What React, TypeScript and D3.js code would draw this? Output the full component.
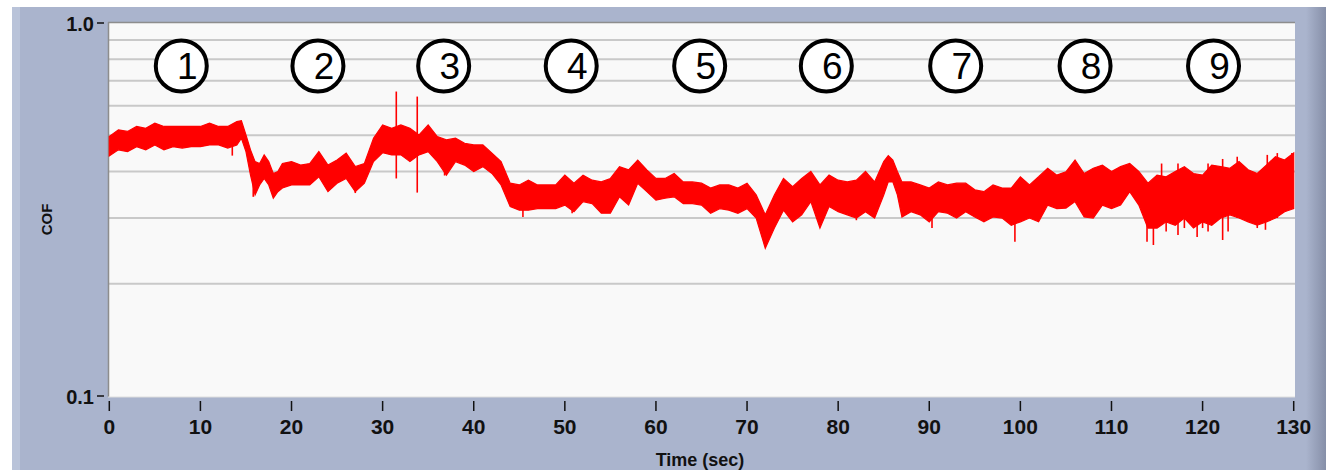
import React from "react";
import * as d3 from "d3";

// Friction test trace: coefficient of friction (log scale) against time.
const seconds = [
  0, 1, 2, 3, 4, 5, 6, 7, 8, 9, 10, 11, 12, 13, 14, 14.5, 15, 15.5, 16, 16.5, 17, 17.5, 18, 18.5,
  19, 20, 21, 22, 23, 24, 25, 26, 27, 28, 29, 30, 31, 32, 33, 34, 35, 36, 37, 38, 39, 40, 41, 42,
  43, 44, 45, 46, 47, 48, 49, 50, 51, 52, 53, 54, 55, 56, 57, 58, 59, 60, 61, 62, 63, 64, 65, 66,
  67, 68, 69, 70, 71, 72, 73, 74, 75, 76, 77, 78, 79, 80, 81, 82, 83, 84, 85, 85.5, 86, 86.5, 87,
  88, 89, 90, 91, 92, 93, 94, 95, 96, 97, 98, 99, 100, 101, 102, 103, 104, 105, 106, 107, 108, 109,
  110, 111, 112, 113, 114, 115, 116, 117, 118, 119, 120, 121, 122, 123, 124, 125, 126, 127, 128,
  129, 130,
];

const cofUpper = [
  0.496, 0.517, 0.512, 0.528, 0.522, 0.539, 0.528, 0.528, 0.528, 0.528, 0.528, 0.539, 0.528, 0.528,
  0.544, 0.547, 0.501, 0.457, 0.425, 0.42, 0.443, 0.425, 0.395, 0.4,
  0.42, 0.425, 0.416, 0.42, 0.452, 0.416, 0.429, 0.448, 0.412, 0.42, 0.491, 0.533, 0.522, 0.533,
  0.522, 0.501, 0.533, 0.496, 0.486, 0.491, 0.476, 0.471, 0.471, 0.448,
  0.425, 0.372, 0.368, 0.379, 0.368, 0.368, 0.368, 0.391, 0.372, 0.391, 0.379, 0.375, 0.383, 0.412,
  0.404, 0.429, 0.404, 0.383, 0.383, 0.395, 0.375, 0.375, 0.372, 0.361,
  0.368, 0.368, 0.361, 0.372, 0.346, 0.306, 0.346, 0.383, 0.364, 0.383, 0.4, 0.368, 0.391, 0.379,
  0.375, 0.379, 0.4, 0.375, 0.425, 0.441, 0.429, 0.4, 0.375,
  0.375, 0.368, 0.361, 0.375, 0.368, 0.372, 0.372, 0.357, 0.353, 0.368, 0.361, 0.361, 0.387, 0.368,
  0.387, 0.408, 0.391, 0.399, 0.429, 0.395, 0.408, 0.416,
  0.4, 0.412, 0.42, 0.4, 0.372, 0.391, 0.387, 0.4, 0.412, 0.395, 0.391, 0.416, 0.412, 0.408, 0.425,
  0.404, 0.395, 0.416, 0.438, 0.429, 0.448,
];

const cofLower = [
  0.44, 0.457, 0.452, 0.466, 0.457, 0.471, 0.457, 0.466, 0.462, 0.466, 0.466, 0.471, 0.471, 0.462,
  0.471, 0.491, 0.452, 0.391, 0.346, 0.368, 0.383, 0.368, 0.339, 0.353,
  0.361, 0.368, 0.368, 0.368, 0.387, 0.353, 0.372, 0.383, 0.353, 0.372, 0.425, 0.449, 0.443, 0.443,
  0.425, 0.443, 0.452, 0.425, 0.391, 0.425, 0.416, 0.4, 0.412, 0.395,
  0.368, 0.322, 0.315, 0.315, 0.318, 0.318, 0.318, 0.325, 0.312, 0.332, 0.328, 0.309, 0.309, 0.342,
  0.325, 0.372, 0.353, 0.335, 0.339, 0.342, 0.328, 0.328, 0.325, 0.309,
  0.318, 0.315, 0.309, 0.318, 0.3, 0.249, 0.282, 0.315, 0.293, 0.306, 0.332, 0.282, 0.322, 0.312,
  0.306, 0.3, 0.312, 0.3, 0.346, 0.375, 0.375, 0.346, 0.302,
  0.312, 0.306, 0.293, 0.312, 0.309, 0.3, 0.312, 0.302, 0.293, 0.302, 0.3, 0.287, 0.293, 0.3,
  0.293, 0.325, 0.318, 0.319, 0.332, 0.302, 0.3, 0.325,
  0.318, 0.325, 0.353, 0.325, 0.282, 0.282, 0.293, 0.287, 0.3, 0.282, 0.293, 0.287, 0.3, 0.306,
  0.3, 0.293, 0.287, 0.293, 0.3, 0.312, 0.318,
];

// Short excursions of the signal: [time, lowest COF, highest COF]
const spikes: [number, number, number][] = [
  [13.5, 0.441, 0.51],
  [15.8, 0.342, 0.42],
  [27.0, 0.35, 0.41],
  [31.5, 0.383, 0.655],
  [33.8, 0.351, 0.635],
  [36.8, 0.39, 0.47],
  [45.4, 0.302, 0.36],
  [50.8, 0.309, 0.37],
  [82.0, 0.296, 0.36],
  [90.3, 0.282, 0.36],
  [93.4, 0.306, 0.36],
  [99.4, 0.259, 0.35],
  [113.9, 0.259, 0.36],
  [114.6, 0.254, 0.37],
  [115.5, 0.3, 0.42],
  [116.0, 0.276, 0.36],
  [117.3, 0.27, 0.42],
  [118.0, 0.282, 0.37],
  [119.4, 0.267, 0.37],
  [120.0, 0.282, 0.37],
  [120.6, 0.276, 0.42],
  [122.2, 0.262, 0.432],
  [122.8, 0.276, 0.37],
  [123.8, 0.3, 0.438],
  [126.0, 0.282, 0.36],
  [126.9, 0.279, 0.37],
  [127.1, 0.33, 0.443],
  [128.2, 0.3, 0.448],
  [129.8, 0.32, 0.448],
];

const xTicks = [0, 10, 20, 30, 40, 50, 60, 70, 80, 90, 100, 110, 120, 130];
const yTickValues = [0.1, 1.0];
const yTickLabels = ["0.1", "1.0"];
const gridValues = [0.2, 0.3, 0.4, 0.5, 0.6, 0.7, 0.8, 0.9];

// Numbered test stages marked above the trace
const stageTimes = [7.9, 22.9, 36.7, 50.7, 64.8, 78.7, 92.9, 107.1, 121.2];
const stageLabels = ["1", "2", "3", "4", "5", "6", "7", "8", "9"];
const stageCof = 0.767;

const W = 1326;
const H = 470;
const plot = { left: 108, top: 22, right: 1295, bottom: 397 };
const FONT = "'Liberation Sans', Arial, sans-serif";

export default function App() {
  const x = d3.scaleLinear().domain([0, 130]).range([109.3, 1293.7]);
  const y = d3.scaleLog().domain([0.1, 1]).range([396, 23]);

  const rows = seconds.map((t, i) => ({ t, hi: cofUpper[i], lo: cofLower[i] }));
  const band = d3
    .area<{ t: number; hi: number; lo: number }>()
    .x((d) => x(d.t))
    .y0((d) => y(d.lo))
    .y1((d) => y(d.hi))
    .curve(d3.curveLinear)(rows) as string;

  return (
    <svg
      width={W}
      height={H}
      style={{ position: "absolute", left: 0, top: 0, display: "block" }}
      fontFamily={FONT}
    >
      <defs>
        <linearGradient id="edgeShade" x1="0" x2="1" y1="0" y2="0">
          <stop offset="0" stopColor="#aab4cd" />
          <stop offset="1" stopColor="#868fa8" />
        </linearGradient>
      </defs>
      <rect x={0} y={0} width={W} height={H} fill="#ffffff" />
      <rect x={12} y={7} width={W - 12} height={H - 7} fill="#aab4cd" />
      <rect x={12} y={7} width={8} height={H - 7} fill="#b9c3d9" />
      <rect x={1306} y={7} width={20} height={H - 7} fill="url(#edgeShade)" />

      {/* plot area */}
      <rect
        x={plot.left}
        y={plot.top}
        width={plot.right - plot.left}
        height={plot.bottom - plot.top}
        fill="#f9f9f9"
      />
      {gridValues.map((v) => (
        <line
          key={v}
          x1={plot.left}
          x2={plot.right}
          y1={y(v)}
          y2={y(v)}
          stroke="#c9c9c9"
          strokeWidth={2}
        />
      ))}
      <line x1={plot.left} x2={plot.right} y1={plot.top + 0.5} y2={plot.top + 0.5} stroke="#8d8d8d" strokeWidth={1.5} />
      <line x1={plot.left + 0.5} x2={plot.left + 0.5} y1={plot.top} y2={plot.bottom} stroke="#8d8d8d" strokeWidth={1.5} />
      <line x1={plot.left} x2={plot.right} y1={plot.bottom} y2={plot.bottom} stroke="#dedede" strokeWidth={1} />

      {/* trace */}
      <path d={band} fill="#ff0000" stroke="#ff0000" strokeWidth={1.2} strokeLinejoin="miter" />
      {spikes.map(([t, lo, hi], i) => (
        <line key={i} x1={x(t)} x2={x(t)} y1={y(lo)} y2={y(hi)} stroke="#ff0000" strokeWidth={1.6} />
      ))}

      {/* stage markers */}
      {stageTimes.map((t, i) => (
        <g key={stageLabels[i]}>
          <circle cx={x(t)} cy={y(stageCof)} r={25.5} fill="#ffffff" stroke="#000000" strokeWidth={4} />
          <text
            x={x(t) + 6}
            y={y(stageCof) + 13}
            textAnchor="middle"
            fontSize={37}
            fill="#000000"
          >
            {stageLabels[i]}
          </text>
        </g>
      ))}

      {/* y axis */}
      {yTickValues.map((v, i) => (
        <g key={v}>
          <line x1={97} x2={104} y1={y(v)} y2={y(v)} stroke="#111" strokeWidth={1.5} />
          <text x={94} y={y(v) + 8} textAnchor="end" fontSize={20} fontWeight="bold" fill="#111">
            {yTickLabels[i]}
          </text>
        </g>
      ))}
      <text
        transform={`translate(52,${(plot.top + plot.bottom) / 2 + 10}) rotate(-90)`}
        textAnchor="middle"
        fontSize={15}
        fontWeight="bold"
        fill="#111"
      >
        COF
      </text>

      {/* x axis */}
      {xTicks.map((t) => (
        <g key={t}>
          <line x1={x(t)} x2={x(t)} y1={401} y2={411} stroke="#111" strokeWidth={1.5} />
          <text x={x(t)} y={434} textAnchor="middle" fontSize={21} fontWeight="bold" fill="#111">
            {t}
          </text>
        </g>
      ))}
      <text x={700} y={466} textAnchor="middle" fontSize={18} fontWeight="bold" fill="#111">
        Time (sec)
      </text>
    </svg>
  );
}
